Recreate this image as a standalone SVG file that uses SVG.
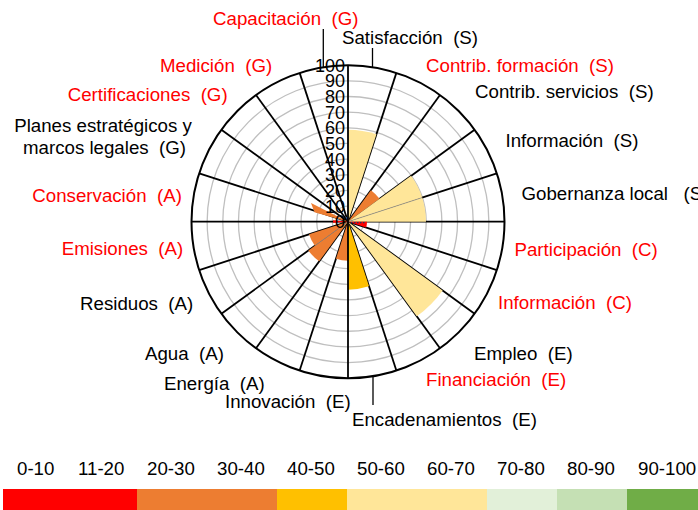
<svg xmlns="http://www.w3.org/2000/svg" width="698" height="510" viewBox="0 0 698 510">
<style>
text{font-family:"Liberation Sans",Arial,sans-serif;font-size:18.7px;fill:#000;white-space:pre}
.r{fill:#FF0000}
.tick{font-size:18px;text-anchor:end}
.ring{fill:none;stroke:#BFBFBF;stroke-width:1.3}
.spk line{stroke:#000;stroke-width:1.8}
.lead{stroke:#000;stroke-width:1.3}
.y{fill:#FFE699}.o{fill:#ED7D31}.g{fill:#FFC000}.rd{fill:#FF0000}
.sep{stroke:#8C8C8C;stroke-width:0.7}
</style>
<rect width="698" height="510" fill="#FFFFFF"/>
<g id="grid">
<circle class="ring" cx="348" cy="221.7" r="15.65"/>
<circle class="ring" cx="348" cy="221.7" r="31.3"/>
<circle class="ring" cx="348" cy="221.7" r="46.95"/>
<circle class="ring" cx="348" cy="221.7" r="62.6"/>
<circle class="ring" cx="348" cy="221.7" r="78.25"/>
<circle class="ring" cx="348" cy="221.7" r="93.9"/>
<circle class="ring" cx="348" cy="221.7" r="109.55"/>
<circle class="ring" cx="348" cy="221.7" r="125.2"/>
<circle class="ring" cx="348" cy="221.7" r="140.85"/>
</g>
<g id="spokes" class="spk">
<line x1="348" y1="221.7" x2="396.36" y2="72.86"/>
<line x1="348" y1="221.7" x2="439.99" y2="95.09"/>
<line x1="348" y1="221.7" x2="474.61" y2="129.71"/>
<line x1="348" y1="221.7" x2="496.84" y2="173.34"/>
<line x1="348" y1="221.7" x2="504.5" y2="221.7"/>
<line x1="348" y1="221.7" x2="496.84" y2="270.06"/>
<line x1="348" y1="221.7" x2="474.61" y2="313.69"/>
<line x1="348" y1="221.7" x2="439.99" y2="348.31"/>
<line x1="348" y1="221.7" x2="396.36" y2="370.54"/>
<line x1="348" y1="221.7" x2="299.64" y2="370.54"/>
<line x1="348" y1="221.7" x2="256.01" y2="348.31"/>
<line x1="348" y1="221.7" x2="221.39" y2="313.69"/>
<line x1="348" y1="221.7" x2="199.16" y2="270.06"/>
<line x1="348" y1="221.7" x2="191.5" y2="221.7"/>
<line x1="348" y1="221.7" x2="199.16" y2="173.34"/>
<line x1="348" y1="221.7" x2="221.39" y2="129.71"/>
<line x1="348" y1="221.7" x2="256.01" y2="95.09"/>
<line x1="348" y1="221.7" x2="299.64" y2="72.86"/>
</g>
<g id="wedges">
<path id="w-satisfaccion" class="y" d="M348,221.7 L348,129.7 A92,92 0 0 1 376.43,134.2 Z"/>
<path id="w-contrib-servicios" class="o" d="M348,221.7 L370.92,190.15 A39,39 0 0 1 379.55,198.78 Z"/>
<path id="w-informacion-s" class="y" d="M348,221.7 L411.1,175.85 A78,78 0 0 1 422.18,197.6 Z"/>
<path id="w-gobernanza" class="y" d="M348,221.7 L422.18,197.6 A78,78 0 0 1 426,221.7 Z"/>
<path id="w-participacion" class="rd" d="M348,221.7 L367,221.7 A19,19 0 0 1 366.07,227.57 Z"/>
<path id="w-empleo" class="y" d="M348,221.7 L442.66,290.47 A117,117 0 0 1 416.77,316.36 Z"/>
<path id="w-encadenamientos" class="g" d="M348,221.7 L369.01,286.37 A68,68 0 0 1 348,289.7 Z"/>
<path id="w-innovacion" class="o" d="M348,221.7 L348,260.7 A39,39 0 0 1 335.95,258.79 Z"/>
<path id="w-agua" class="o" d="M348,221.7 L319.2,261.34 A49,49 0 0 1 308.36,250.5 Z"/>
<path id="w-residuos" class="o" d="M348,221.7 L314.83,245.8 A41,41 0 0 1 309.01,234.37 Z"/>
<path id="w-planes" class="o" d="M348,221.7 L314.5,212.3 L311,203 Z"/>
<path id="w-emisiones" class="rd" d="M348,221.7 L333.04,222.75 L333.08,220.13 Z"/>
<path id="w-capacitacion" fill="#2F5597" d="M348,221.7 L345.5,217.37 A5,5 0 0 1 348,216.7 Z"/>
<line class="sep" x1="348" y1="221.7" x2="422.18" y2="197.6"/>
<line class="sep" x1="348" y1="221.7" x2="314.83" y2="245.8"/>
<line x1="351" y1="222.6" x2="366" y2="222.6" stroke="#1F3864" stroke-width="1.2" stroke-dasharray="1.5 1.5"/>
</g>
<g id="axis">
<circle cx="348" cy="221.7" r="156.5" fill="none" stroke="#000" stroke-width="2"/>
<line x1="348" y1="65.2" x2="348" y2="378.2" stroke="#000" stroke-width="1.8"/>
</g>
<g id="ticks">
<text class="tick" x="345" y="228.2">0</text>
<text class="tick" x="345" y="212.55">10</text>
<text class="tick" x="345" y="196.9">20</text>
<text class="tick" x="345" y="181.25">30</text>
<text class="tick" x="345" y="165.6">40</text>
<text class="tick" x="345" y="149.95">50</text>
<text class="tick" x="345" y="134.3">60</text>
<text class="tick" x="345" y="118.65">70</text>
<text class="tick" x="345" y="103">80</text>
<text class="tick" x="345" y="87.35">90</text>
<text class="tick" x="345" y="71.7">100</text>
</g>
<g id="connectors">
<line class="lead" x1="323.3" y1="29" x2="323.3" y2="67.2"/>
<line class="lead" x1="372.5" y1="48" x2="372.5" y2="67.1"/>
<line class="lead" x1="373" y1="376.3" x2="373" y2="405"/>
</g>
<g id="labels">
<text id="l-capacitacion" class="r" x="213" y="25" xml:space="preserve">Capacitación  (G)</text>
<text id="l-satisfaccion" x="342" y="43.5" xml:space="preserve">Satisfacción  (S)</text>
<text id="l-contrib-formacion" class="r" x="426" y="71.5" xml:space="preserve">Contrib. formación  (S)</text>
<text id="l-contrib-servicios" x="475" y="97.5" xml:space="preserve">Contrib. servicios  (S)</text>
<text id="l-informacion-s" x="505.5" y="146.5" xml:space="preserve">Información  (S)</text>
<text id="l-gobernanza" x="521.5" y="200" xml:space="preserve">Gobernanza local   (S</text>
<text id="l-participacion" class="r" x="514.5" y="255.5" xml:space="preserve">Participación  (C)</text>
<text id="l-informacion-c" class="r" x="498" y="309" xml:space="preserve">Información  (C)</text>
<text id="l-empleo" x="474" y="360" xml:space="preserve">Empleo  (E)</text>
<text id="l-financiacion" class="r" x="426" y="386" xml:space="preserve">Financiación  (E)</text>
<text id="l-encadenamientos" x="352" y="426" xml:space="preserve">Encadenamientos  (E)</text>
<text id="l-innovacion" x="225" y="408" xml:space="preserve">Innovación  (E)</text>
<text id="l-energia" x="164" y="390" xml:space="preserve">Energía  (A)</text>
<text id="l-agua" x="145" y="360" xml:space="preserve">Agua  (A)</text>
<text id="l-residuos" x="80" y="310" xml:space="preserve">Residuos  (A)</text>
<text id="l-emisiones" class="r" x="61.7" y="255" xml:space="preserve">Emisiones  (A)</text>
<text id="l-conservacion" class="r" x="32.3" y="201.7" xml:space="preserve">Conservación  (A)</text>
<text id="l-planes" text-anchor="middle" x="103" y="131.7" xml:space="preserve">Planes estratégicos y<tspan x="104.5" y="154">marcos legales  (G)</tspan></text>
<text id="l-certificaciones" class="r" x="67.7" y="100.7" xml:space="preserve">Certificaciones  (G)</text>
<text id="l-medicion" class="r" x="160" y="71.7" xml:space="preserve">Medición  (G)</text>
</g>
<g id="legend">
<text x="17" y="475">0-10</text>
<text x="78" y="475">11-20</text>
<text x="147" y="475">20-30</text>
<text x="217" y="475">30-40</text>
<text x="287" y="475">40-50</text>
<text x="357" y="475">50-60</text>
<text x="427" y="475">60-70</text>
<text x="497" y="475">70-80</text>
<text x="567" y="475">80-90</text>
<text x="638" y="475">90-100</text>
<rect x="3" y="489" width="134" height="21" fill="#FF0000"/>
<rect x="137" y="489" width="140" height="21" fill="#ED7D31"/>
<rect x="277" y="489" width="70" height="21" fill="#FFC000"/>
<rect x="347" y="489" width="140" height="21" fill="#FFE699"/>
<rect x="487" y="489" width="70" height="21" fill="#E2F0D9"/>
<rect x="557" y="489" width="70" height="21" fill="#C5E0B4"/>
<rect x="627" y="489" width="71" height="21" fill="#70AD47"/>
</g>
</svg>
